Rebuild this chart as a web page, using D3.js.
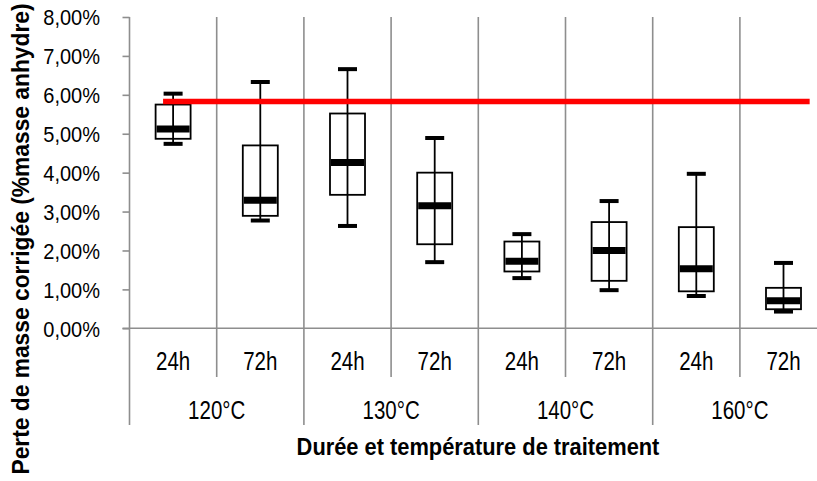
<!DOCTYPE html>
<html>
<head>
<meta charset="utf-8">
<script src="https://cdn.jsdelivr.net/npm/d3@7"></script>
<style>
  body { margin: 0; background: #fff; }
  svg { display: block; font-family: "Liberation Sans", Arial, sans-serif; }
</style>
</head>
<body>
<svg id="chart" width="817" height="481"></svg>
<script>
// data (values in %)
var durations = ["24h", "72h", "24h", "72h", "24h", "72h", "24h", "72h"];
var temperatures = ["120°C", "130°C", "140°C", "160°C"];
var whiskerMax = [6.03, 6.33, 6.66, 4.89, 2.42, 3.27, 3.97, 1.68];
var q3 = [5.75, 4.70, 5.52, 4.00, 2.23, 2.73, 2.60, 1.04];
var median = [5.12, 3.29, 4.26, 3.15, 1.72, 2.00, 1.53, 0.71];
var q1 = [4.87, 2.89, 3.43, 2.16, 1.46, 1.22, 0.95, 0.49];
var whiskerMin = [4.74, 2.77, 2.63, 1.70, 1.29, 0.98, 0.83, 0.43];
var yTicks = [0, 1, 2, 3, 4, 5, 6, 7, 8];
// red limit line: value and span in category units
var limitValue = 5.83;
var limitSpan = [0.385, 7.8];

var svg = d3.select("#chart");
var margin = {top: 17, left: 129.5, bottom: 328.3},
    band = 87.2;

var boxes = durations.map(function(d, i) {
    return {key: i, label: d, max: whiskerMax[i], q3: q3[i], med: median[i], q1: q1[i], min: whiskerMin[i]};
});

var x = d3.scaleBand()
    .domain(boxes.map(function(d) { return d.key; }))
    .range([margin.left, margin.left + band * durations.length])
    .paddingInner(0).paddingOuter(0);

// same range but in category index units, for the limit line and separators
var xIdx = d3.scaleLinear()
    .domain([0, durations.length])
    .range(x.range());

var y = d3.scaleLinear()
    .domain([0, 8])
    .range([margin.bottom, margin.top]);

var fr = d3.formatLocale({decimal: ",", thousands: " ", grouping: [3], currency: ["", "€"]});
var fmt = fr.format(".2f");

var grey = "#8e8e8e";

// vertical separators (category gridlines running into the axis labels)
var seps = d3.range(0, durations.length + 1);
svg.append("g").attr("class", "seps")
    .selectAll("line")
    .data(seps)
    .enter()
    .append("line")
    .attr("x1", function(d) { return xIdx(d); })
    .attr("x2", function(d) { return xIdx(d); })
    .attr("y1", margin.top)
    .attr("y2", function(d) { return d % 2 === 0 ? 425 : 377; })
    .style("stroke", grey)
    .style("stroke-width", 1.6);

// x axis line
svg.append("line")
    .attr("x1", x.range()[0] - 7)
    .attr("x2", x.range()[1])
    .attr("y1", y(0))
    .attr("y2", y(0))
    .style("stroke", grey)
    .style("stroke-width", 1.6);

// y axis ticks + labels
var yAxis = svg.append("g")
    .attr("transform", "translate(" + margin.left + ",0)")
    .call(d3.axisLeft(y)
        .tickValues(yTicks)
        .tickSize(7)
        .tickPadding(22)
        .tickFormat(function(d) { return fmt(d) + "%"; }));

yAxis.select(".domain").remove();
yAxis.selectAll(".tick line").style("stroke", grey).style("stroke-width", 1.6);
yAxis.selectAll(".tick text")
    .attr("x", null)
    .attr("dy", "0.36em")
    .attr("transform", "translate(-29.5,0) scale(0.91,1)")
    .style("font-size", "22px")
    .style("fill", "#000");
yAxis.attr("font-family", null).attr("font-size", null);

// box plots
var g = svg.append("g").attr("class", "data");
var boxW = 35, capW = 19, medW = 33;

var item = g.selectAll("g.box")
    .data(boxes)
    .enter()
    .append("g")
    .attr("class", "box")
    .attr("transform", function(d) { return "translate(" + (x(d.key) + x.bandwidth() / 2) + ",0)"; });

item.append("line")
    .attr("x1", 0).attr("x2", 0)
    .attr("y1", function(d) { return y(d.max); })
    .attr("y2", function(d) { return y(d.min); })
    .style("stroke", "#000")
    .style("stroke-width", 1.8);

item.append("rect")
    .attr("x", -boxW / 2)
    .attr("width", boxW)
    .attr("y", function(d) { return y(d.q3); })
    .attr("height", function(d) { return y(d.q1) - y(d.q3); })
    .style("fill", "none")
    .style("stroke", "#000")
    .style("stroke-width", 1.8);

item.selectAll("line.cap")
    .data(function(d) { return [d.max, d.min]; })
    .enter()
    .append("line")
    .attr("class", "cap")
    .attr("x1", -capW / 2).attr("x2", capW / 2)
    .attr("y1", function(v) { return y(v); })
    .attr("y2", function(v) { return y(v); })
    .style("stroke", "#000")
    .style("stroke-width", 4);

item.append("line")
    .attr("x1", -medW / 2).attr("x2", medW / 2)
    .attr("y1", function(d) { return y(d.med); })
    .attr("y2", function(d) { return y(d.med); })
    .style("stroke", "#000")
    .style("stroke-width", 7);

// red limit line
svg.append("line")
    .attr("x1", xIdx(limitSpan[0]))
    .attr("x2", xIdx(limitSpan[1]))
    .attr("y1", y(limitValue))
    .attr("y2", y(limitValue))
    .style("stroke", "#ff0000")
    .style("stroke-width", 5.5);

// category labels
svg.append("g").selectAll("text")
    .data(boxes)
    .enter()
    .append("text")
    .attr("transform", function(d) { return "translate(" + (x(d.key) + x.bandwidth() / 2) + ",370) scale(0.82,1)"; })
    .attr("text-anchor", "middle")
    .style("font-size", "25px")
    .text(function(d) { return d.label; });

svg.append("g").selectAll("text")
    .data(temperatures)
    .enter()
    .append("text")
    .attr("transform", function(d, i) { return "translate(" + xIdx(i * 2 + 1) + ",419) scale(0.82,1)"; })
    .attr("text-anchor", "middle")
    .style("font-size", "25px")
    .text(function(d) { return d; });

// axis titles
svg.append("text")
    .attr("transform", "translate(478,455) scale(0.91,1)")
    .attr("text-anchor", "middle")
    .style("font-size", "24px")
    .style("font-weight", "bold")
    .text("Durée et température de traitement");

svg.append("text")
    .attr("transform", "translate(29,239) rotate(-90) scale(0.95,1)")
    .attr("text-anchor", "middle")
    .style("font-size", "24px")
    .style("font-weight", "bold")
    .text("Perte de masse corrigée (%masse anhydre)");
</script>
</body>
</html>
